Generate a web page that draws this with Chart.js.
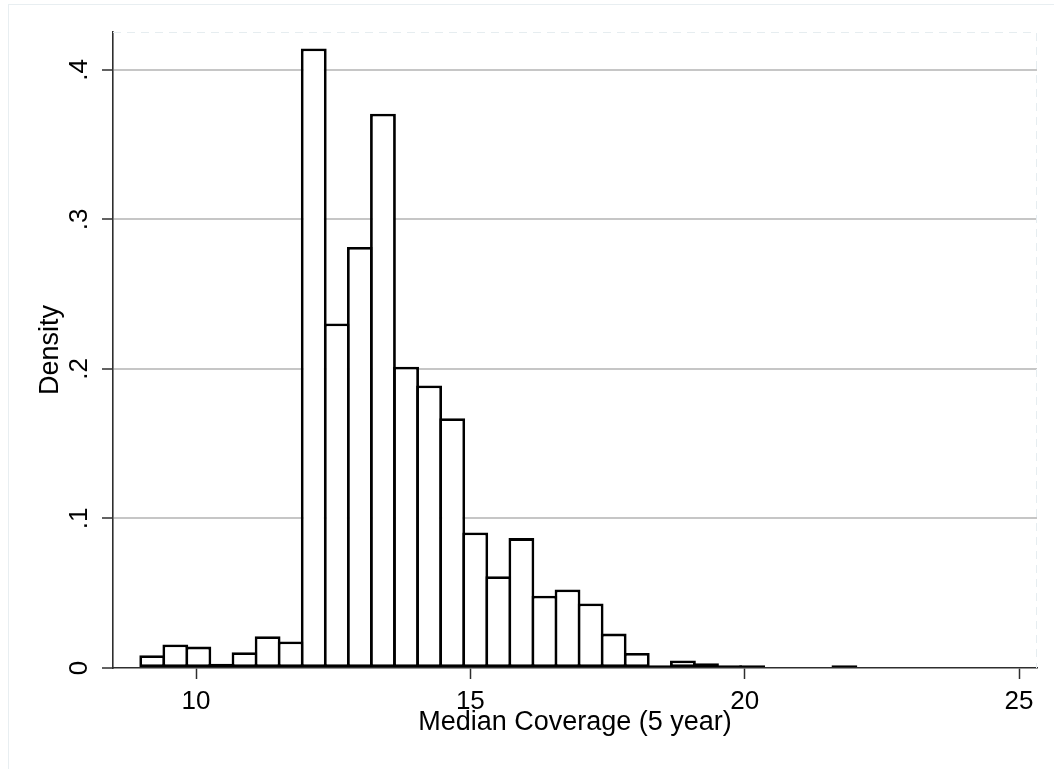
<!DOCTYPE html>
<html>
<head>
<meta charset="utf-8">
<title>Median Coverage histogram</title>
<script src="https://cdn.jsdelivr.net/npm/chart.js@4.4.1/dist/chart.umd.min.js"></script>
<style>
  html, body { margin: 0; padding: 0; background: #fff; }
  #wrap { position: relative; width: 1054px; height: 769px; overflow: hidden; }
  #frame {
    position: absolute; left: 8px; top: 4px; right: -2px; bottom: -2px;
    border-top: 1px solid #e8eef1; border-left: 1px solid #e8eef1;
    pointer-events: none;
  }
</style>
</head>
<body>
<div id="wrap">
  <canvas id="hist" width="1054" height="769"></canvas>
  <div id="frame"></div>
</div>
<script>
// histogram bins (centres) and densities
const binCenters = [
  9.202, 9.623, 10.043, 10.464, 10.884, 11.305, 11.725, 12.146,
  12.566, 12.987, 13.407, 13.828, 14.248, 14.669, 15.089, 15.510,
  15.930, 16.351, 16.771, 17.192, 17.612, 18.033, 18.453, 18.874,
  19.294, 19.715, 20.135, 20.556, 20.976, 21.397, 21.817
];
const density = [
  0.0085, 0.0158, 0.0143, 0.0029, 0.0105, 0.0212, 0.0178, 0.4144,
  0.2305, 0.2816, 0.3707, 0.2015, 0.1890, 0.1670, 0.0907, 0.0614,
  0.0869, 0.0484, 0.0525, 0.0432, 0.0230, 0.0100, 0.0018, 0.0051,
  0.0031, 0.0018, 0.0018, null, null, null, 0.0018
];
const xTicks = [10, 15, 20, 25];
const yTicks = [0, 0.1, 0.2, 0.3, 0.4];
const yTickLabels = ["0", ".1", ".2", ".3", ".4"];
const xRange = [8.487, 25.327];
const yRange = [0, 0.4254];

const FONT = "'Liberation Sans', Arial, Helvetica, sans-serif";
const AXIS = "#2e2e2e";

// faint frame round the plot region
const plotFrame = {
  id: "plotFrame",
  beforeDatasetsDraw(chart) {
    const { ctx, chartArea: a } = chart;
    ctx.save();
    ctx.strokeStyle = "#e6edf0";
    ctx.lineWidth = 1;
    ctx.setLineDash([8, 6]);
    ctx.beginPath();
    ctx.moveTo(a.left, a.top + 0.5);
    ctx.lineTo(a.right - 0.5, a.top + 0.5);
    ctx.lineTo(a.right - 0.5, a.bottom);
    ctx.stroke();
    ctx.restore();
  }
};

new Chart(document.getElementById("hist"), {
  type: "bar",
  data: {
    datasets: [{
      data: binCenters.map((x, i) => ({ x: x, y: density[i] })),
      backgroundColor: "#ffffff",
      borderColor: "#000000",
      borderWidth: 2.8,
      borderSkipped: false,
      inflateAmount: 0,
      barPercentage: 1.121,
      categoryPercentage: 1
    }]
  },
  options: {
    responsive: false,
    animation: false,
    devicePixelRatio: 1,
    layout: { padding: { top: 32, right: 17, left: 0, bottom: 0 } },
    plugins: {
      legend: { display: false },
      tooltip: { enabled: false }
    },
    scales: {
      x: {
        type: "linear",
        min: xRange[0],
        max: xRange[1],
        offset: false,
        z: 1,
        afterFit: s => { s.height = 101; },
        afterBuildTicks: s => { s.ticks = xTicks.map(v => ({ value: v })); },
        grid: {
          offset: false,
          drawOnChartArea: false,
          drawTicks: true,
          tickLength: 11,
          tickWidth: 1.5,
          tickColor: AXIS
        },
        border: { display: true, color: AXIS, width: 1.6 },
        ticks: {
          padding: 7,
          color: "#000",
          font: { family: FONT, size: 26 },
          maxRotation: 0,
          autoSkip: false,
          callback: v => String(v)
        },
        title: {
          display: true,
          text: "Median Coverage (5 year)",
          color: "#000",
          font: { family: FONT, size: 27 },
          padding: { top: 0, bottom: 30 }
        }
      },
      y: {
        min: yRange[0],
        max: yRange[1],
        afterFit: s => { s.width = 113; },
        afterBuildTicks: s => { s.ticks = yTicks.map(v => ({ value: v })); },
        grid: {
          color: c => (c.tick && c.tick.value === 0) ? "rgba(0,0,0,0)" : "#c6c6c6",
          lineWidth: 2,
          drawTicks: true,
          tickLength: 11,
          tickWidth: 1.5,
          tickColor: AXIS
        },
        border: { display: true, color: AXIS, width: 1.6 },
        ticks: {
          minRotation: 90,
          maxRotation: 90,
          crossAlign: "center",
          padding: 11,
          color: "#000",
          font: { family: FONT, size: 26 },
          autoSkip: false,
          callback: v => yTickLabels[yTicks.indexOf(v)] ?? ""
        },
        title: {
          display: true,
          text: "Density",
          color: "#000",
          font: { family: FONT, size: 27 },
          padding: { top: 34, bottom: 0 }
        }
      }
    }
  },
  plugins: [plotFrame]
});
</script>
</body>
</html>
